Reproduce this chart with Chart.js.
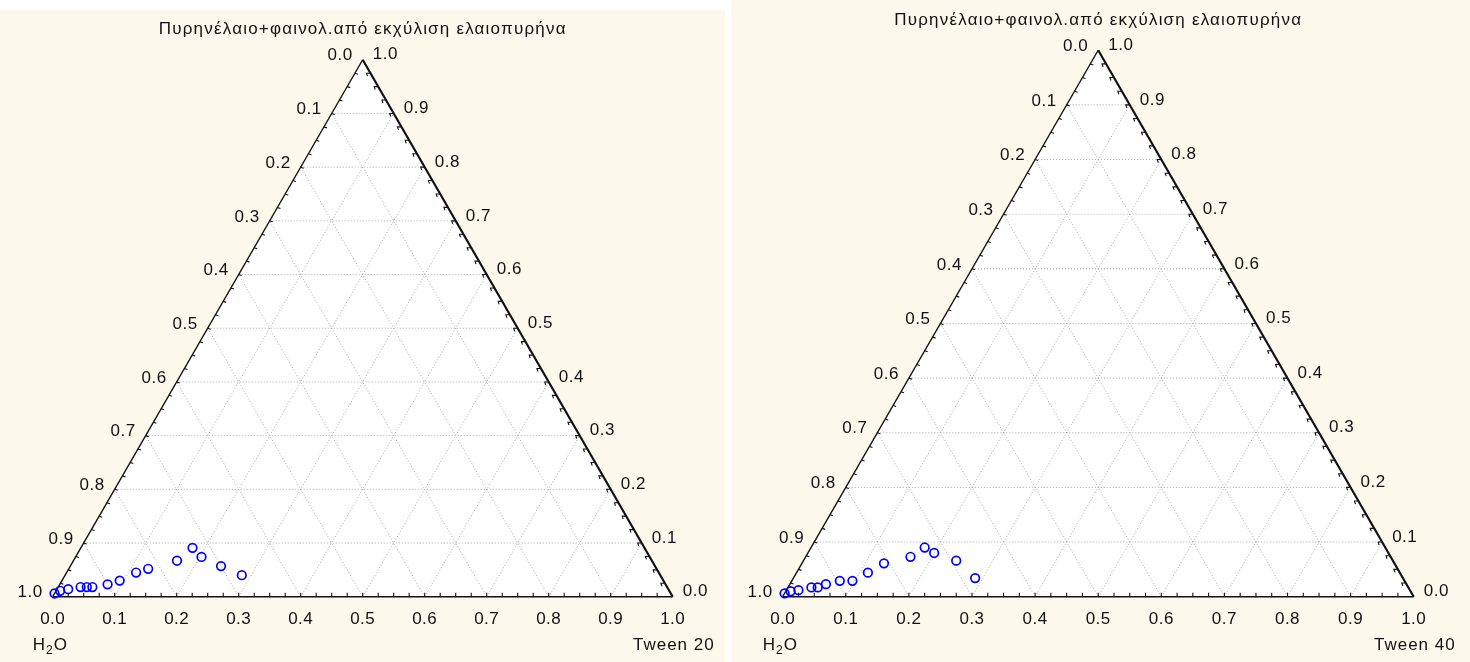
<!DOCTYPE html>
<html>
<head>
<meta charset="utf-8">
<script src="https://cdn.jsdelivr.net/npm/chart.js@4"></script>
<style>
  body { margin: 0; background: #ffffff; width: 1470px; height: 662px; overflow: hidden; position: relative; }
  .panel { position: absolute; background: #fdf8ec; }
  .panel canvas { display: block; }
</style>
</head>
<body>
<div class="panel" id="p1" style="left:0;top:10px;width:725px;height:652px;"><canvas id="c1"></canvas></div>
<div class="panel" id="p2" style="left:731px;top:0;width:739px;height:662px;"><canvas id="c2"></canvas></div>
<script>
// ternary data: Tween fraction and oil fraction (water = rest)
const tween20 = [0, 0.0065, 0.018, 0.036, 0.046, 0.055, 0.077, 0.093, 0.112, 0.128, 0.167, 0.180, 0.203, 0.243, 0.285];
const oil20   = [0.006, 0.011, 0.014, 0.018, 0.018, 0.018, 0.023, 0.030, 0.045, 0.052, 0.067, 0.091, 0.074, 0.057, 0.040];

const tween40 = [0, 0.0075, 0.019, 0.037, 0.047, 0.057, 0.076, 0.096, 0.113, 0.130, 0.166, 0.180, 0.200, 0.242, 0.288];
const oil40   = [0.006, 0.010, 0.012, 0.017, 0.017, 0.023, 0.029, 0.029, 0.044, 0.061, 0.073, 0.090, 0.080, 0.066, 0.034];

const tickLabels = ["0.0", "0.1", "0.2", "0.3", "0.4", "0.5", "0.6", "0.7", "0.8", "0.9", "1.0"];
const titleText = "Πυρηνέλαιο+φαινολ.από εκχύλιση ελαιοπυρήνα";

const SQ = Math.sqrt(3) / 2;
const FONT = '"Liberation Sans", Arial, sans-serif';

function tern(t, o) { return { x: t + o / 2, y: o * SQ }; }

const ternaryPlugin = {
  id: "ternary",
  beforeDatasetsDraw(chart) {
    const ctx = chart.ctx;
    const sx = chart.scales.x, sy = chart.scales.y;
    const P = (p) => [sx.getPixelForValue(p.x), sy.getPixelForValue(p.y)];
    const A = P({ x: 0, y: 0 }), B = P({ x: 1, y: 0 }), C = P({ x: 0.5, y: SQ });

    ctx.save();
    // white inside
    ctx.fillStyle = "#ffffff";
    ctx.beginPath();
    ctx.moveTo(A[0], A[1]); ctx.lineTo(B[0], B[1]); ctx.lineTo(C[0], C[1]); ctx.closePath();
    ctx.fill();

    // dotted grid
    ctx.strokeStyle = "#aaaaaa";
    ctx.lineWidth = 1;
    ctx.setLineDash([1, 2]);
    const line = (p, q) => {
      const a = P(p), b = P(q);
      ctx.beginPath(); ctx.moveTo(a[0], a[1]); ctx.lineTo(b[0], b[1]); ctx.stroke();
    };
    for (let i = 1; i < 10; i++) {
      const v = i / 10;
      line(tern(0, v), tern(1 - v, v));      // oil constant
      line(tern(v, 0), tern(v, 1 - v));      // tween constant
      line(tern(1 - v, 0), tern(0, 1 - v));  // water constant
    }
    ctx.setLineDash([]);

    // edges
    ctx.strokeStyle = "#111111";
    ctx.lineWidth = 1.4;
    ctx.beginPath(); ctx.moveTo(A[0], A[1]); ctx.lineTo(B[0], B[1]); ctx.stroke();
    ctx.beginPath(); ctx.moveTo(A[0], A[1]); ctx.lineTo(C[0], C[1]); ctx.stroke();
    ctx.lineWidth = 2.2;
    ctx.beginPath(); ctx.moveTo(B[0], B[1]); ctx.lineTo(C[0], C[1]); ctx.stroke();

    // small ticks every 0.025
    ctx.lineWidth = 1.1;
    for (let k = 1; k < 40; k++) {
      const v = k / 40;
      const b = P(tern(v, 0));
      ctx.beginPath(); ctx.moveTo(b[0], b[1]); ctx.lineTo(b[0], b[1] - 4); ctx.stroke();
      const l = P(tern(0, v));
      ctx.beginPath(); ctx.moveTo(l[0], l[1]); ctx.lineTo(l[0] + 3, l[1] + 1); ctx.stroke();
      const r = P(tern(1 - v, v));
      ctx.beginPath(); ctx.moveTo(r[0], r[1]); ctx.lineTo(r[0] - 4, r[1]); ctx.lineTo(r[0] - 3, r[1] + 3); ctx.stroke();
    }
    ctx.restore();
  },
  afterDraw(chart) {
    const ctx = chart.ctx;
    const sx = chart.scales.x, sy = chart.scales.y;
    const P = (p) => [sx.getPixelForValue(p.x), sy.getPixelForValue(p.y)];
    const opts = chart.options.plugins.ternary;
    const A = P({ x: 0, y: 0 }), B = P({ x: 1, y: 0 }), C = P({ x: 0.5, y: SQ });

    ctx.save();
    ctx.fillStyle = "#111111";
    ctx.font = "17px " + FONT;
    ctx.letterSpacing = "0.5px";
    ctx.textBaseline = "middle";
    for (let i = 0; i <= 10; i++) {
      const v = i / 10;
      // bottom axis
      const b = P(tern(v, 0));
      ctx.textAlign = "center";
      ctx.fillText(tickLabels[i], b[0], b[1] + 23);
      // left edge
      const l = P(tern(0, v));
      ctx.textAlign = "right";
      ctx.fillText(tickLabels[10 - i], l[0] - 10, l[1] - 4);
      // right edge
      const r = P(tern(1 - v, v));
      ctx.textAlign = "left";
      ctx.fillText(tickLabels[i], r[0] + 10, r[1] - 5);
    }

    // title
    ctx.textAlign = "center";
    ctx.font = "17px " + FONT;
    ctx.letterSpacing = "1.2px";
    ctx.fillText(titleText, C[0], C[1] - 30);

    // corner names
    ctx.letterSpacing = "1px";
    ctx.font = "17px " + FONT;
    ctx.textAlign = "left";
    let x = A[0] - 20;
    const y = A[1] + 49;
    ctx.fillText("H", x, y); x += ctx.measureText("H").width;
    ctx.font = "12px " + FONT;
    ctx.fillText("2", x, y + 5); x += ctx.measureText("2").width;
    ctx.font = "17px " + FONT;
    ctx.fillText("O", x, y);
    ctx.textAlign = "right";
    ctx.fillText(opts.rightName, B[0] + 42, y);
    ctx.restore();
  }
};

function makeChart(id, tween, oil, originX, originY, size, rightName) {
  const canvas = document.getElementById(id);
  const w = canvas.parentElement.clientWidth, h = canvas.parentElement.clientHeight;
  const points = tween.map((t, i) => tern(t, oil[i]));
  return new Chart(canvas, {
    type: "scatter",
    data: {
      datasets: [{
        data: points,
        pointStyle: "circle",
        pointRadius: 4.3,
        borderColor: "#0000ff",
        backgroundColor: "rgba(0,0,0,0)",
        borderWidth: 1.7
      }]
    },
    options: {
      responsive: true,
      maintainAspectRatio: false,
      animation: false,
      devicePixelRatio: 1,
      layout: { padding: 0, autoPadding: false },
      plugins: {
        legend: { display: false },
        tooltip: { enabled: false },
        ternary: { rightName: rightName }
      },
      scales: {
        x: { type: "linear", display: false, min: -originX / size, max: (w - originX) / size },
        y: { type: "linear", display: false, min: -(h - originY) / size, max: originY / size }
      }
    },
    plugins: [ternaryPlugin]
  });
}

makeChart("c1", tween20, oil20, 52.7, 586.7, 620, "Tween 20");
makeChart("c2", tween40, oil40, 51.7, 596.7, 631, "Tween 40");
</script>
</body>
</html>
